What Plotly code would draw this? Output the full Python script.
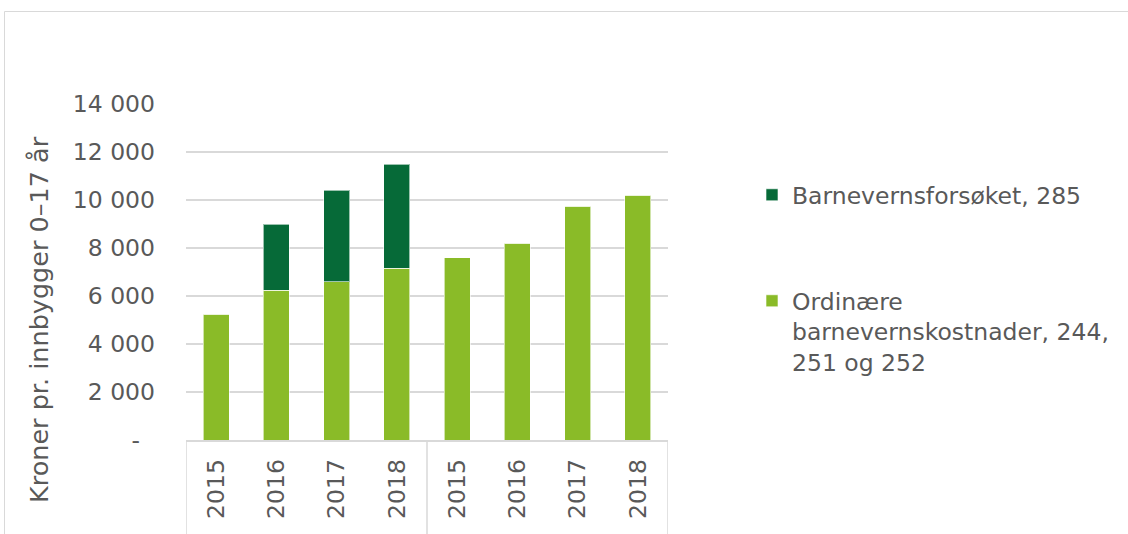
import plotly.graph_objects as go

# Kostnader per innbygger 0-17 år, to grupper av årene 2015-2018
years = ["2015", "2016", "2017", "2018", "2015", "2016", "2017", "2018"]
ordinaere = [5250, 6250, 6600, 7150, 7600, 8200, 9750, 10200]
forsoket = [0, 2750, 3800, 4350, 0, 0, 0, 0]

y_tickvals = [0, 2000, 4000, 6000, 8000, 10000, 12000, 14000]
y_ticktext = ["-\u00a0\u00a0", "2 000", "4 000", "6 000", "8 000", "10 000", "12 000", "14 000"]

name_ordinaere = "Ordinære<br>barnevernskostnader, 244,<br>251 og 252"
name_forsoket = "Barnevernsforsøket, 285"

LIGHT = "#8abb28"
DARK = "#066a38"
TEXT = "#595959"
GRID = "#d9d9d9"
FONT = "DejaVu Sans, Verdana, sans-serif"
FS = 23.5

W, H = 1128, 534
L, R, T, B = 186, 668, 104, 440  # plot area in pixels


def px_x(px):
    return (px - L) / (R - L)


def px_y(py):
    return (B - py) / (B - T)


xpos = list(range(len(years)))

fig = go.Figure()
fig.add_trace(go.Bar(
    x=xpos, y=ordinaere, name=name_ordinaere, marker_color=LIGHT,
    marker_line=dict(color="rgba(255,255,255,0.6)", width=1),
    width=0.43, legend="legend2",
))
fig.add_trace(go.Bar(
    x=xpos, y=forsoket, name=name_forsoket, marker_color=DARK,
    marker_line=dict(color="rgba(255,255,255,0.6)", width=1),
    width=0.43, legend="legend",
))

shapes = []
# outer chart border
shapes.append(dict(type="rect", xref="paper", yref="paper",
                   x0=px_x(4.5), x1=px_x(W + 20), y0=px_y(H + 20), y1=px_y(11.5),
                   line=dict(color=GRID, width=1), fillcolor="rgba(0,0,0,0)", layer="below"))
# category group dividers below the axis
for xv in [-0.5, 3.5, 7.5]:
    shapes.append(dict(type="line", xref="x", yref="paper", x0=xv, x1=xv,
                       y0=0, y1=px_y(H + 20), line=dict(color=GRID, width=1.5)))

legend_font = dict(family=FONT, size=FS, color=TEXT)

fig.update_layout(
    width=W, height=H,
    margin=dict(l=L, r=W - R, t=T, b=H - B),
    paper_bgcolor="white", plot_bgcolor="white",
    barmode="stack",
    font=dict(family=FONT, size=FS, color=TEXT),
    showlegend=True,
    legend=dict(x=px_x(752), y=px_y(173), xanchor="left", yanchor="top", valign="top",
                font=legend_font, bgcolor="rgba(0,0,0,0)"),
    legend2=dict(x=px_x(752), y=px_y(279), xanchor="left", yanchor="top", valign="top",
                 font=legend_font, bgcolor="rgba(0,0,0,0)"),
    xaxis=dict(range=[-0.5, 7.5], tickmode="array", tickvals=xpos, ticktext=years,
               tickangle=-90, showgrid=False, zeroline=False, showline=True,
               linecolor=GRID, linewidth=1.5, ticks="", ticklabelstandoff=8,
               tickfont=dict(family=FONT, size=FS, color=TEXT)),
    yaxis=dict(range=[0, 14000], tickmode="array", tickvals=y_tickvals, ticktext=y_ticktext,
               showgrid=True, gridcolor=GRID, gridwidth=1.5, zeroline=False, showline=False,
               ticks="", ticklabelstandoff=30,
               tickfont=dict(family=FONT, size=FS, color=TEXT)),
    shapes=shapes,
    annotations=[dict(text="Kroner pr. innbygger 0–17 år", xref="paper", yref="paper",
                      x=px_x(39), y=px_y(320), xanchor="center", yanchor="middle",
                      textangle=-90, showarrow=False,
                      font=dict(family=FONT, size=25.5, color=TEXT))],
)

fig.write_html("out.html")
